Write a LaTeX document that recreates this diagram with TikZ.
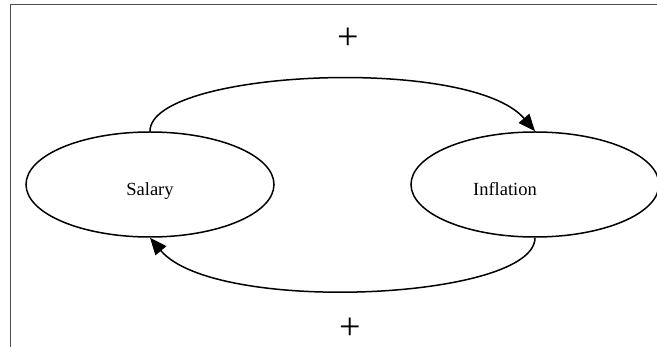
\documentclass[tikz,border=0pt]{standalone}
\usepackage{fontspec}
\setmainfont{Liberation Serif}
\usetikzlibrary{arrows.meta, positioning, shapes.geometric}

\begin{document}
\begin{tikzpicture}[
    x=1pt, y=-1pt,
    every node/.style={font=\fontsize{18.5}{22}\selectfont},
    var/.style={ellipse, draw, line width=1.5pt, inner sep=0pt,
                minimum width=248pt, minimum height=105pt},
    vartext/.style={text height=12pt, text depth=4pt, yshift=-7.5pt},
    arrow/.style={line width=1.5pt, -{Triangle[length=17pt, width=14pt]}},
    sign/.style={inner sep=0pt, font=\fontsize{38}{38}\selectfont}
  ]
  \useasboundingbox (0,0) rectangle (657,347);

  % frame
  \draw[line width=1.8pt, black!70] (10.5,347) -- (10.5,4.5) -- (657,4.5);

  \node[var, label={[vartext]center:Salary}] (salary) at (150,184.5) {};
  \node[var, label={[vartext, xshift=-30pt]center:Inflation}] (inflation) at (535,184.5) {};

  \draw[arrow] (salary.north) .. controls (150,70) and (470,55) .. (inflation.north);
  \draw[arrow] (inflation.south) .. controls (535,300) and (215,315) .. (salary.south);

  \node[sign] (plustop) at (348,39) {+};
  \node[sign] (plusbot) at (350,329) {+};
\end{tikzpicture}
\end{document}
